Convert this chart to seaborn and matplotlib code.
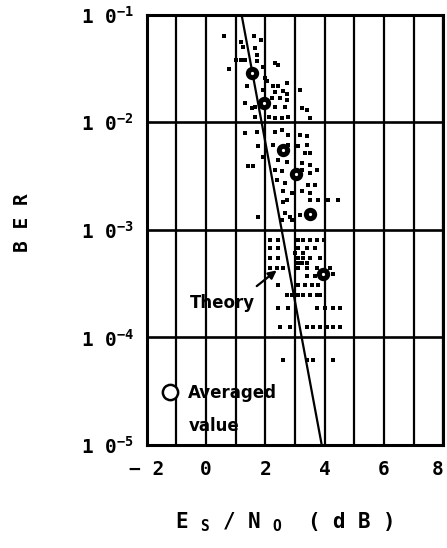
import matplotlib
matplotlib.use('Agg')
import matplotlib.pyplot as plt
import seaborn as sns
import pandas as pd
from matplotlib.lines import Line2D
from matplotlib.ticker import FixedLocator, NullLocator

# ---------------- data ----------------
dots_db = [0.61, 1.17, 1.62, 1.84, 1.26, 1.65, 1.01, 1.17, 1.32, 1.71, 1.71, 0.79,
           2.33, 2.44, 1.93, 1.99, 2.05, 1.39, 2.27, 2.44, 2.74, 1.93, 2.33, 2.59,
           2.72, 3.17, 2.22, 2.50, 2.72, 1.32, 1.54, 1.65, 2.33, 2.66, 3.23, 3.40,
           2.13, 2.33, 2.55, 2.78, 3.51, 1.65,
           1.32, 1.71, 2.33, 2.55, 2.78, 3.17, 3.40, 1.76, 2.27, 2.78, 3.11, 3.40,
           3.51, 3.34, 1.43, 1.60, 1.93, 2.44, 2.72, 2.33, 2.55, 3.23, 3.51, 3.23,
           3.51, 3.73, 2.38, 2.66, 3.45, 3.68, 2.61, 2.89, 3.23, 3.51, 2.72, 2.61,
           3.51, 3.79, 4.12, 4.46, 1.76, 2.66, 2.83, 3.17, 2.55, 2.89,
           2.16, 2.44, 3.11, 3.28, 3.51, 3.73, 3.96,
           2.16, 2.44, 3.11, 3.40, 3.68,
           3.00, 3.28,
           2.16, 2.44, 3.11, 3.28, 3.51, 3.85,
           3.11, 3.23, 3.40,
           2.16, 2.39, 2.61, 3.11, 3.40, 3.73, 4.18,
           3.40, 3.68, 4.29,
           2.44, 3.11, 3.34, 3.56, 3.79,
           2.72, 2.89, 3.11, 3.28, 3.51, 3.73, 3.85,
           2.44, 2.78, 3.73, 4.00, 4.29, 4.52,
           2.50, 2.83, 3.40, 3.62, 3.85, 4.07, 4.29, 4.52,
           2.61, 3.40, 3.62, 4.29]
dots_ber = [6.3e-2, 5.6e-2, 6.3e-2, 5.8e-2, 5.0e-2, 4.9e-2, 3.8e-2, 3.8e-2, 3.8e-2, 4.2e-2, 3.7e-2, 3.1e-2,
            3.6e-2, 3.4e-2, 3.3e-2, 2.6e-2, 2.4e-2, 2.2e-2, 2.2e-2, 2.2e-2, 2.3e-2, 2.0e-2, 1.9e-2, 1.95e-2,
            1.85e-2, 2.0e-2, 1.7e-2, 1.7e-2, 1.6e-2, 1.5e-2, 1.35e-2, 1.4e-2, 1.4e-2, 1.4e-2, 1.35e-2, 1.3e-2,
            1.13e-2, 1.1e-2, 1.1e-2, 1.13e-2, 1.1e-2, 1.13e-2,
            7.9e-3, 8.2e-3, 8.2e-3, 8.5e-3, 7.7e-3, 7.7e-3, 7.4e-3, 6.0e-3, 6.2e-3, 6.2e-3, 6.0e-3, 6.2e-3,
            5.2e-3, 5.2e-3, 3.9e-3, 3.9e-3, 4.8e-3, 4.5e-3, 4.3e-3, 3.6e-3, 3.5e-3, 4.2e-3, 4.0e-3, 3.6e-3,
            3.4e-3, 3.6e-3, 2.9e-3, 2.7e-3, 2.6e-3, 2.6e-3, 2.3e-3, 2.2e-3, 2.3e-3, 2.2e-3, 1.9e-3, 1.8e-3,
            1.9e-3, 1.9e-3, 1.9e-3, 1.9e-3, 1.33e-3, 1.43e-3, 1.33e-3, 1.38e-3, 1.24e-3, 1.24e-3,
            8.1e-4, 8.1e-4, 8.1e-4, 8.1e-4, 8.1e-4, 8.1e-4, 8.1e-4,
            6.8e-4, 6.8e-4, 6.8e-4, 6.8e-4, 6.8e-4,
            6.1e-4, 6.1e-4,
            5.5e-4, 5.5e-4, 5.5e-4, 5.5e-4, 5.5e-4, 5.5e-4,
            4.9e-4, 4.9e-4, 4.9e-4,
            4.4e-4, 4.4e-4, 4.4e-4, 4.4e-4, 4.4e-4, 4.4e-4, 4.4e-4,
            3.7e-4, 3.7e-4, 3.9e-4,
            3.1e-4, 3.1e-4, 3.1e-4, 3.1e-4, 3.1e-4,
            2.5e-4, 2.5e-4, 2.5e-4, 2.5e-4, 2.5e-4, 2.5e-4, 2.5e-4,
            1.87e-4, 1.87e-4, 1.87e-4, 1.87e-4, 1.87e-4, 1.87e-4,
            1.26e-4, 1.26e-4, 1.26e-4, 1.26e-4, 1.26e-4, 1.26e-4, 1.26e-4, 1.26e-4,
            6.2e-5, 6.2e-5, 6.2e-5, 6.2e-5]

avg_db = [1.55, 1.96, 2.59, 3.04, 3.49, 3.95]
avg_ber = [2.9e-2, 1.5e-2, 5.5e-3, 3.3e-3, 1.4e-3, 3.9e-4]

theory_db = [1.2, 3.9]
theory_ber = [1e-1, 1e-5]

x_ticks = [-2, 0, 2, 4, 6, 8]
x_ticklabels = ['\u2212 2', '0', '2', '4', '6', '8']
y_ticks = [1e-5, 1e-4, 1e-3, 1e-2, 1e-1]
y_ticklabels = ['1 0$^{-5}$', '1 0$^{-4}$', '1 0$^{-3}$', '1 0$^{-2}$', '1 0$^{-1}$']

# ---------------- style ----------------
sns.set_style('white')
plt.rcParams['font.family'] = ['DejaVu Sans Mono', 'DejaVu Sans']
plt.rcParams['font.weight'] = 'bold'
plt.rcParams['mathtext.fontset'] = 'custom'
plt.rcParams['mathtext.bf'] = 'DejaVu Sans Mono:bold'
plt.rcParams['mathtext.rm'] = 'DejaVu Sans Mono:bold'
plt.rcParams['mathtext.default'] = 'bf'
for k in ['text.color', 'axes.labelcolor', 'xtick.color', 'ytick.color']:
    plt.rcParams[k] = 'black'

dots = pd.DataFrame({'db': dots_db, 'ber': dots_ber})
avg = pd.DataFrame({'db': avg_db, 'ber': avg_ber})
theory = pd.DataFrame({'db': theory_db, 'ber': theory_ber})

fig = plt.figure(figsize=(4.47, 5.48), dpi=100)
ax = fig.add_axes([0.328, 0.188, 0.664, 0.785])
ax.set_yscale('log')

sns.scatterplot(data=dots, x='db', y='ber', marker='s', s=6, color='black',
                linewidth=0, ax=ax, zorder=3)
sns.lineplot(data=theory, x='db', y='ber', color='black', lw=1.6, ax=ax, zorder=4)
sns.scatterplot(data=avg, x='db', y='ber', marker='o', s=36, color='white',
                edgecolor='black', linewidth=3.6, ax=ax, zorder=5)

ax.set_xlim(-2, 8)
ax.set_ylim(1e-5, 1e-1)
ax.set_xticks(x_ticks)
ax.set_xticklabels(x_ticklabels)
ax.get_xticklabels()[-1].set_ha('right')
ax.xaxis.set_minor_locator(FixedLocator([-1, 1, 3, 5, 7]))
ax.set_yticks(y_ticks)
ax.set_yticklabels(y_ticklabels)
ax.yaxis.set_minor_locator(NullLocator())
ax.tick_params(axis='both', which='both', length=0, labelsize=14, colors='black')
ax.tick_params(axis='x', pad=11)
ax.tick_params(axis='y', pad=9)

ax.set_axisbelow(True)
ax.grid(axis='x', which='both', color='black', lw=1.6)
ax.grid(axis='y', which='major', color='black', lw=1.9)
for sp in ax.spines.values():
    sp.set_color('black')
    sp.set_linewidth(2.2)
    sp.set_visible(True)

ax.set_xlabel('E $_{S}$ / N $_{O}$  ( d B )', fontsize=15, fontweight='bold')
ax.xaxis.set_label_coords(0.463, -0.152)
ax.set_ylabel('B E R', fontsize=14, fontweight='bold')
ax.yaxis.set_label_coords(-0.385, 0.516)

ax.text(0.57, 2.1e-4, 'Theory', ha='center', va='center', fontsize=12,
        family='DejaVu Sans', fontweight='bold')
ax.annotate('', xy=(2.38, 4.2e-4), xytext=(1.71, 3.0e-4),
            arrowprops=dict(arrowstyle='-|>', color='black', lw=1.6,
                            mutation_scale=12, shrinkA=0, shrinkB=0))

handles = [Line2D([], [], marker='o', ls='', mfc='white', mec='black', ms=11, mew=1.8),
           Line2D([], [], marker='', ls='')]
leg = ax.legend(handles=handles, labels=['Averaged', 'value'], loc='lower left',
                bbox_to_anchor=(0.0, -0.005), frameon=False, handletextpad=0.4,
                handlelength=1.4, labelspacing=0.95, borderaxespad=0.3,
                prop=dict(family='DejaVu Sans', weight='bold', size=12))

fig.savefig('out.png', dpi=100)
